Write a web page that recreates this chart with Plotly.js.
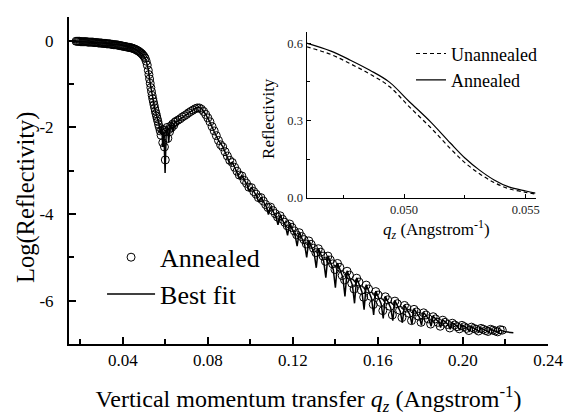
<!DOCTYPE html>
<html>
<head>
<meta charset="utf-8">
<script src="https://cdn.plot.ly/plotly-3.0.1.min.js"></script>
<style>html,body{margin:0;padding:0;background:#fff;}#chart{width:570px;height:416px;}</style>
</head>
<body>
<div id="chart"></div>
<script>
// Main plot: measured data (open circles)
const qData = [0.0180,0.0185,0.0190,0.0195,0.0200,0.0205,0.0210,0.0215,0.0220,0.0225,
0.0230,0.0235,0.0240,0.0245,0.0250,0.0255,0.0260,0.0265,0.0270,0.0275,
0.0280,0.0285,0.0290,0.0295,0.0300,0.0305,0.0310,0.0315,0.0320,0.0325,
0.0330,0.0335,0.0340,0.0345,0.0350,0.0355,0.0360,0.0365,0.0370,0.0375,
0.0380,0.0385,0.0390,0.0395,0.0400,0.0405,0.0410,0.0415,0.0420,0.0425,
0.0430,0.0435,0.0440,0.0445,0.0450,0.0455,0.0460,0.0465,0.0470,0.0475,
0.0480,0.0485,0.0490,0.0495,0.0500,0.0505,0.0510,0.0515,0.0520,0.0523,0.0526,0.0529,
0.0532,0.0535,0.0538,0.0541,0.0544,0.0547,0.0550,0.0553,0.0556,0.0559,
0.0562,0.0565,0.0568,0.0572,0.0576,0.0580,0.0584,0.0588,0.0592,0.0596,
0.0600,0.0604,0.0608,0.0612,0.0616,0.0620,0.0625,0.0630,0.0635,0.0640,
0.0645,0.0650,0.0660,0.0670,0.0680,0.0690,0.0700,0.0710,0.0720,0.0730,
0.0740,0.0750,0.0760,0.0770,0.0780,0.0790,0.0800,0.0810,0.0820,0.0830,
0.0840,0.0850,0.0860,
0.0870,0.0881,0.0892,0.0903, 0.0915,0.0926,0.0937,0.0948, 0.0960,0.0971,0.0982,0.0993,
0.1005,0.1016,0.1027,0.1038, 0.1050,0.1061,0.1072,0.1083, 0.1095,0.1106,0.1117,0.1128,
0.1140,0.1151,0.1162,0.1173, 0.1185,0.1196,0.1207,0.1218, 0.1230,0.1241,0.1252,0.1263,
0.1275,0.1286,0.1297,0.1308, 0.1320,0.1331,0.1342,0.1353, 0.1365,0.1376,0.1387,0.1398,
0.1410,0.1421,0.1432,0.1443, 0.1455,0.1466,0.1477,0.1488, 0.1500,0.1511,0.1522,0.1533,
0.1545,0.1556,0.1567,0.1578, 0.1590,0.1601,0.1612,0.1623, 0.1635,0.1646,0.1657,0.1668,
0.1680,0.1691,0.1702,0.1713, 0.1725,0.1736,0.1747,0.1758, 0.1770,0.1781,0.1792,0.1803,
0.1815,0.1826,0.1837,0.1848, 0.1860,0.1871,0.1882,0.1893, 0.1905,0.1916,0.1927,0.1938,
0.1950,0.1961,0.1972,0.1983, 0.1995,0.2006,0.2017,0.2028, 0.2040,0.2051,0.2062,0.2073,
0.2085,0.2096,0.2107,0.2118, 0.2130,0.2141,0.2152,0.2163, 0.2175,0.2185];
const logData = [-0.01,-0.01,-0.01,-0.01,-0.02,-0.02,-0.02,-0.02,-0.02,-0.02,
-0.02,-0.03,-0.03,-0.03,-0.03,-0.03,-0.03,-0.04,-0.04,-0.04,
-0.04,-0.05,-0.05,-0.05,-0.05,-0.06,-0.06,-0.06,-0.06,-0.07,
-0.07,-0.07,-0.07,-0.08,-0.08,-0.09,-0.09,-0.09,-0.09,-0.10,
-0.10,-0.11,-0.11,-0.12,-0.12,-0.13,-0.13,-0.14,-0.14,-0.15,
-0.15,-0.16,-0.16,-0.17,-0.18,-0.19,-0.20,-0.21,-0.23,-0.24,
-0.26,-0.28,-0.30,-0.33,-0.36,-0.40,-0.47,-0.56,-0.68,-0.78,-0.88,-0.98,
-1.08,-1.17,-1.26,-1.34,-1.41,-1.48,-1.55,-1.62,-1.68,-1.74,
-1.80,-1.86,-1.93,-2.00,-2.08,-2.18,-2.05,-2.35,-2.05,-2.45,
-2.75,-2.10,-2.00,-2.25,-2.05,-2.10,-1.97,-2.00,-1.92,-1.95,
-1.88,-1.86,-1.83,-1.80,-1.76,-1.73,-1.70,-1.66,-1.63,-1.60,
-1.57,-1.55,-1.55,-1.58,-1.63,-1.70,-1.78,-1.87,-1.98,-2.08,
-2.19,-2.30,-2.40,
-2.45,-2.56,-2.66,-2.76, -2.81,-2.92,-3.01,-3.10, -3.12,-3.22,-3.29,-3.38,
-3.39,-3.48,-3.54,-3.62, -3.62,-3.70,-3.78,-3.85, -3.84,-3.92,-3.99,-4.07,
-4.04,-4.12,-4.19,-4.27, -4.23,-4.31,-4.39,-4.48, -4.43,-4.52,-4.59,-4.69,
-4.62,-4.70,-4.79,-4.89, -4.80,-4.88,-4.97,-5.09, -4.97,-5.06,-5.15,-5.28,
-5.14,-5.23,-5.42,-5.52, -5.32,-5.41,-5.60,-5.73, -5.48,-5.57,-5.76,-5.92,
-5.64,-5.73,-5.90,-6.09, -5.79,-5.87,-6.04,-6.23, -5.91,-5.98,-6.13,-6.33,
-6.01,-6.07,-6.22,-6.39, -6.11,-6.17,-6.29,-6.46, -6.20,-6.26,-6.36,-6.50,
-6.28,-6.33,-6.42,-6.54, -6.37,-6.42,-6.50,-6.59, -6.45,-6.50,-6.55,-6.63,
-6.52,-6.56,-6.60,-6.65, -6.57,-6.60,-6.64,-6.69, -6.61,-6.64,-6.66,-6.70,
-6.64,-6.66,-6.69,-6.71, -6.66,-6.68,-6.70,-6.72, -6.67,-6.68];

// Main plot: best fit (solid line)
const qFit = [0.0180,0.0220,0.0260,0.0300,0.0340,0.0380,0.0420,0.0450,0.0470,0.0490,
0.0500,0.0510,0.0520,0.0530,0.0540,0.0550,0.0560,0.0570,0.0578,0.0583,
0.0588,0.0593,0.0599,0.0604,0.0610,0.0616,0.0622,0.0630,0.0636,0.0642,
0.0660,0.0680,0.0700,0.0720,0.0740,0.0755,0.0770,0.0790,0.0810,0.0830,0.0850,
0.0870,0.0895,0.0905, 0.0915,0.0940,0.0950, 0.0960,0.0985,0.0995, 0.1005,0.1030,0.1040,
0.1050,0.1075,0.1085, 0.1095,0.1120,0.1130, 0.1140,0.1165,0.1175, 0.1185,0.1210,0.1220,
0.1230,0.1255,0.1265, 0.1275,0.1300,0.1310, 0.1320,0.1345,0.1355, 0.1365,0.1390,0.1400,
0.1410,0.1435,0.1445, 0.1455,0.1480,0.1490, 0.1500,0.1525,0.1535, 0.1545,0.1570,0.1580,
0.1590,0.1615,0.1625, 0.1635,0.1660,0.1670, 0.1680,0.1705,0.1715, 0.1725,0.1750,0.1760,
0.1770,0.1795,0.1805, 0.1815,0.1840,0.1850, 0.1860,0.1885,0.1895, 0.1905,0.1930,0.1940,
0.1950,0.1975,0.1985, 0.1995,0.2020,0.2030, 0.2040,0.2065,0.2075, 0.2085,0.2110,0.2120,
0.2130,0.2155,0.2165, 0.2175,0.2200,0.2237];
const logFit = [-0.01,-0.02,-0.03,-0.05,-0.07,-0.09,-0.12,-0.17,-0.22,-0.30,
-0.36,-0.46,-0.66,-1.02,-1.33,-1.56,-1.74,-1.92,-2.15,-1.98,
-2.45,-2.10,-3.05,-2.15,-1.98,-2.35,-1.97,-1.93,-2.10,-1.90,
-1.84,-1.77,-1.70,-1.63,-1.56,-1.53,-1.56,-1.70,-1.88,-2.10,-2.30,
-2.44,-2.71,-2.84, -2.80,-3.05,-3.18, -3.11,-3.33,-3.47, -3.38,-3.59,-3.73,
-3.61,-3.83,-4.01, -3.83,-4.06,-4.25, -4.03,-4.27,-4.49, -4.22,-4.48,-4.74,
-4.42,-4.70,-5.00, -4.61,-4.90,-5.24, -4.79,-5.09,-5.47, -4.96,-5.28,-5.70,
-5.13,-5.46,-5.90, -5.31,-5.64,-6.06, -5.47,-5.80,-6.21, -5.63,-5.95,-6.33,
-5.78,-6.07,-6.41, -5.90,-6.16,-6.46, -6.00,-6.25,-6.51, -6.10,-6.32,-6.54,
-6.19,-6.38,-6.57, -6.27,-6.43,-6.59, -6.36,-6.49,-6.62, -6.44,-6.55,-6.66,
-6.51,-6.60,-6.68, -6.56,-6.64,-6.70, -6.60,-6.67,-6.71, -6.63,-6.69,-6.72,
-6.66,-6.70,-6.73, -6.68,-6.72,-6.74];

// Inset: linear reflectivity near the critical edge
const qInset = [0.0460,0.0470,0.0478,0.0486,0.0494,0.0502,0.0511,0.0519,0.0525,0.0531,0.0537,0.0543,0.0550,0.0554];
const reflAnnealed = [0.600,0.569,0.534,0.495,0.449,0.375,0.294,0.213,0.155,0.108,0.070,0.043,0.027,0.019];
const reflUnannealed = [0.586,0.556,0.520,0.480,0.432,0.355,0.272,0.192,0.137,0.094,0.060,0.036,0.022,0.015];

const mainYTicks = [-6,-4,-2,0];
const mainYTickText = ['-6','-4','-2','0'];

const FONT = '"Liberation Serif", "Times New Roman", Times, serif';

const traces = [
  {x: qData, y: logData, type: 'scatter', mode: 'markers', name: 'Annealed',
   marker: {symbol: 'circle-open', size: 8, color: '#000', line: {width: 1, color: '#000'}},
   xaxis: 'x', yaxis: 'y', legend: 'legend'},
  {x: qFit, y: logFit, type: 'scatter', mode: 'lines', name: 'Best fit',
   line: {color: '#000', width: 1.5}, xaxis: 'x', yaxis: 'y', legend: 'legend'},
  {x: qInset, y: reflUnannealed, type: 'scatter', mode: 'lines', name: 'Unannealed',
   line: {color: '#000', width: 1.2, dash: '4px,3px', shape: 'spline'}, xaxis: 'x2', yaxis: 'y2', legend: 'legend2'},
  {x: qInset, y: reflAnnealed, type: 'scatter', mode: 'lines', name: 'Annealed',
   line: {color: '#000', width: 1.2, shape: 'spline'}, xaxis: 'x2', yaxis: 'y2', legend: 'legend2'}
];

const layout = {
  width: 570, height: 416,
  margin: {l: 69, r: 22, t: 17, b: 72},
  paper_bgcolor: '#fff', plot_bgcolor: 'rgba(0,0,0,0)',
  font: {family: FONT, color: '#000'},
  showlegend: true,
  xaxis: {
    domain: [0, 1], anchor: 'y', range: [0.0147, 0.24],
    tickmode: 'linear', tick0: 0, dtick: 0.04, tickformat: '.2f',
    ticks: 'inside', ticklen: 7, tickwidth: 2, tickcolor: '#000', ticklabelstandoff: 0,
    minor: {tick0: 0, dtick: 0.02, ticks: 'inside', ticklen: 5, tickwidth: 1.5, tickcolor: '#000', showgrid: false},
    showline: true, linewidth: 2, linecolor: '#000',
    showgrid: false, zeroline: false,
    tickfont: {size: 17, family: FONT},
    title: {text: 'Vertical momentum transfer <i>q</i><sub><i>z</i></sub> (Angstrom<sup>-1</sup>)',
            font: {size: 24, family: FONT}, standoff: 22}
  },
  yaxis: {
    domain: [0, 1], anchor: 'x', range: [-7.0, 0.55],
    tickmode: 'array', tickvals: mainYTicks, ticktext: mainYTickText,
    ticks: 'inside', ticklen: 7, tickwidth: 2, tickcolor: '#000', ticklabelstandoff: 10,
    minor: {tickmode: 'array', tickvals: [-5,-3,-1], ticks: 'inside', ticklen: 5, tickwidth: 1.5, tickcolor: '#000', showgrid: false},
    showline: true, linewidth: 2, linecolor: '#000',
    showgrid: false, zeroline: false,
    tickfont: {size: 17, family: FONT}
  },
  xaxis2: {
    domain: [0.496, 0.974], anchor: 'y2', range: [0.0460, 0.0554],
    tickmode: 'linear', tick0: 0, dtick: 0.005, tickformat: '.3f',
    ticks: 'inside', ticklen: 4, tickwidth: 1, tickcolor: '#000',
    minor: {tick0: 0, dtick: 0.0025, ticks: 'inside', ticklen: 3, tickwidth: 1, tickcolor: '#000', showgrid: false},
    showline: true, linewidth: 1.2, linecolor: '#000',
    showgrid: false, zeroline: false,
    tickfont: {size: 12.5, family: FONT, color: '#222'}
  },
  yaxis2: {
    domain: [0.4465, 0.954], anchor: 'x2', range: [0, 0.643],
    tickmode: 'linear', tick0: 0, dtick: 0.3, tickformat: '.1f',
    ticks: 'inside', ticklen: 4, tickwidth: 1, tickcolor: '#000',
    minor: {tick0: 0, dtick: 0.15, ticks: 'inside', ticklen: 3, tickwidth: 1, tickcolor: '#000', showgrid: false},
    showline: true, linewidth: 1.2, linecolor: '#000',
    showgrid: false, zeroline: false,
    tickfont: {size: 12.5, family: FONT, color: '#222'}
  },
  legend: {
    x: 0.069, y: 0.337, xanchor: 'left', yanchor: 'top',
    bgcolor: 'rgba(0,0,0,0)', borderwidth: 0,
    font: {size: 26, family: FONT, color: '#000'}, itemwidth: 48, tracegroupgap: 0
  },
  legend2: {
    x: 0.714, y: 0.944, xanchor: 'left', yanchor: 'top',
    bgcolor: 'rgba(0,0,0,0)', borderwidth: 0,
    font: {size: 18, family: FONT, color: '#000'}, itemwidth: 30
  },
  annotations: [
    {text: 'Log(Reflectivity)', xref: 'paper', yref: 'paper', x: -0.0898, y: 0.4495,
     textangle: -90, showarrow: false, xanchor: 'center', yanchor: 'middle',
     font: {size: 24.5, family: FONT, color: '#000'}},
    {text: 'Reflectivity', xref: 'x2 domain', yref: 'y2 domain', x: -0.169, y: 0.482,
     textangle: -90, showarrow: false, xanchor: 'center', yanchor: 'middle',
     font: {size: 17, family: FONT, color: '#000'}},
    {text: '<i>q</i><sub><i>z</i></sub> (Angstrom<sup>-1</sup>)', xref: 'x2 domain', yref: 'y2 domain',
     x: 0.569, y: 0, yshift: -32, showarrow: false, xanchor: 'center', yanchor: 'middle',
     font: {size: 17, family: FONT, color: '#000'}}
  ]
};

Plotly.newPlot('chart', traces, layout, {displayModeBar: false, responsive: false});
</script>
</body>
</html>
